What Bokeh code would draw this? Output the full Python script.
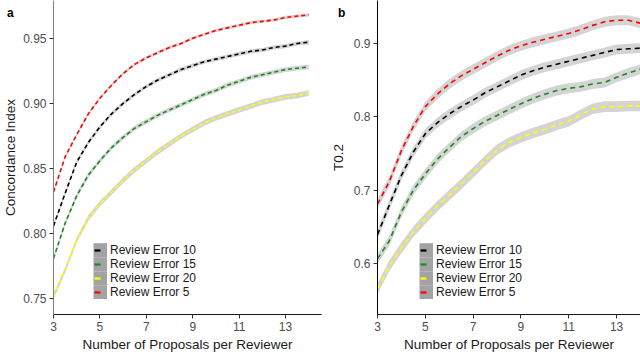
from bokeh.plotting import figure
from bokeh.layouts import row
from bokeh.models import (Range1d, FixedTicker, Legend, LegendItem, Div,
                          PrintfTickFormatter)
from bokeh.embed import file_html
from bokeh.resources import INLINE

# ---------------- data ----------------
proposals = [3, 3.5, 4, 4.5, 5, 5.5, 6, 6.5, 7, 7.5, 8, 8.5, 9, 9.5, 10, 10.5,
             11, 11.5, 12, 12.5, 13, 13.5, 14]

series_names = ["Review Error 10", "Review Error 15", "Review Error 20", "Review Error 5"]
series_colors = ["#000000", "#1a8a1a", "#ffff00", "#ff0000"]

# Panel a: Concordance Index
ci_err10 = [0.806, 0.831, 0.855, 0.870, 0.882, 0.892, 0.900, 0.907, 0.913, 0.918, 0.922, 0.926,
            0.929, 0.932, 0.934, 0.936, 0.938, 0.940, 0.941, 0.943, 0.944, 0.946, 0.947]
ci_err15 = [0.781, 0.808, 0.829, 0.845, 0.856, 0.866, 0.874, 0.881, 0.886, 0.891, 0.895, 0.899,
            0.903, 0.907, 0.910, 0.914, 0.917, 0.920, 0.922, 0.924, 0.926, 0.927, 0.928]
ci_err20 = [0.752, 0.772, 0.795, 0.812, 0.823, 0.832, 0.841, 0.849, 0.856, 0.863, 0.869, 0.875,
            0.880, 0.885, 0.889, 0.892, 0.895, 0.898, 0.901, 0.903, 0.905, 0.906, 0.908]
ci_err5 = [0.832, 0.859, 0.876, 0.892, 0.904, 0.914, 0.923, 0.930, 0.935, 0.939, 0.943, 0.946,
           0.950, 0.953, 0.956, 0.958, 0.960, 0.962, 0.963, 0.964, 0.966, 0.967, 0.968]
ci_band = [0.0016, 0.0018, 0.0022, 0.0012]

# Panel b: T0.2
t_err10 = [0.639, 0.680, 0.720, 0.752, 0.777, 0.792, 0.804, 0.814, 0.823, 0.833, 0.841, 0.849,
           0.857, 0.863, 0.868, 0.872, 0.876, 0.880, 0.884, 0.888, 0.892, 0.893, 0.894]
t_err15 = [0.606, 0.631, 0.670, 0.700, 0.722, 0.742, 0.758, 0.773, 0.784, 0.794, 0.802, 0.810,
           0.818, 0.825, 0.831, 0.836, 0.839, 0.841, 0.845, 0.847, 0.854, 0.860, 0.865]
t_err20 = [0.565, 0.597, 0.621, 0.643, 0.661, 0.678, 0.693, 0.708, 0.724, 0.740, 0.755, 0.765,
           0.772, 0.778, 0.783, 0.789, 0.794, 0.803, 0.811, 0.814, 0.814, 0.815, 0.815]
t_err5 = [0.681, 0.712, 0.754, 0.787, 0.814, 0.831, 0.845, 0.856, 0.865, 0.874, 0.883, 0.891,
          0.897, 0.902, 0.906, 0.910, 0.914, 0.919, 0.925, 0.930, 0.932, 0.932, 0.928]
t_band = [0.0068, 0.0068, 0.0072, 0.0068]

x_ticks = [3, 5, 7, 9, 11, 13]
ci_ticks = [0.75, 0.80, 0.85, 0.90, 0.95]
t_ticks = [0.6, 0.7, 0.8, 0.9]

FONT = "Liberation Sans"


def make_panel(width, border_left, border_right, xr, yr, yticks, yfmt, ylabel, series, bands,
               dash, y_axis_color, legend_x, label_standoff):
    p = figure(width=width, height=354, output_backend="svg", toolbar_location=None,
               x_range=Range1d(*xr), y_range=Range1d(*yr),
               min_border_left=border_left, min_border_right=border_right,
               min_border_top=0, min_border_bottom=38)
    p.outline_line_color = None
    p.xgrid.visible = False
    p.ygrid.visible = False
    p.background_fill_color = "white"
    p.border_fill_color = "white"

    for vals, hw in zip(series, bands):
        lo = [v - hw for v in vals]
        hi = [v + hw for v in vals]
        p.varea(x=proposals, y1=lo, y2=hi, fill_color="#d4d4d4", fill_alpha=1.0)
    for vals, col in zip(series, series_colors):
        p.line(x=proposals, y=vals, line_color=col, line_width=1.6, line_dash=dash)

    # axes
    for ax in (p.xaxis[0], p.yaxis[0]):
        ax.major_tick_in = 0
        ax.major_tick_out = 4
        ax.minor_tick_line_color = None
        ax.major_label_text_font = FONT
        ax.major_label_text_font_size = "12px"
        ax.major_label_text_color = "#4d4d4d"
        ax.major_label_standoff = 3
        ax.axis_label_text_font = FONT
        ax.axis_label_text_font_size = "13.5px"
        ax.axis_label_text_font_style = "normal"
        ax.axis_label_text_color = "#1a1a1a"
    p.xaxis.ticker = FixedTicker(ticks=x_ticks)
    p.yaxis.ticker = FixedTicker(ticks=yticks)
    p.yaxis.formatter = PrintfTickFormatter(format=yfmt)
    p.xaxis.axis_label = "Number of Proposals per Reviewer"
    p.yaxis.axis_label = ylabel
    p.xaxis.axis_label_standoff = 3
    p.yaxis.axis_label_standoff = label_standoff
    p.xaxis.axis_line_color = "#1a1a1a"
    p.xaxis.major_tick_line_color = "#333333"
    p.yaxis.axis_line_color = y_axis_color
    p.yaxis.major_tick_line_color = "#333333"

    # legend keys: renderers that live on an off-screen range (only their legend glyph shows)
    p.extra_x_ranges = {"keys": Range1d(1000, 1001)}
    key_bg = p.line(x=proposals, y=series[0], line_color="#a3a3a3", line_width=14.6,
                    x_range_name="keys")
    items = []
    for name, col, vals in zip(series_names, series_colors, series):
        kl = p.line(x=proposals, y=vals, line_color=col, line_width=2.2, line_dash="6 12",
                    line_dash_offset=-1, x_range_name="keys")
        items.append(LegendItem(label=name, renderers=[key_bg, kl]))
    leg = Legend(items=items, location=(legend_x, 15), orientation="vertical",
                 glyph_width=14, glyph_height=14, label_height=14, spacing=0,
                 padding=0, margin=0, label_standoff=3,
                 border_line_alpha=0, background_fill_alpha=0,
                 label_text_font=FONT, label_text_font_size="12px",
                 label_text_color="#1a1a1a", label_text_baseline="middle")
    p.add_layout(leg, "center")
    return p


pa = make_panel(327, 53, 6, (3, 14.55), (0.738, 0.979), ci_ticks, "%.2f", "Concordance Index",
                [ci_err10, ci_err15, ci_err20, ci_err5], ci_band, "4 3", "#808080", 40, 2)
pb = make_panel(313, 50, 0, (3, 14), (0.530, 0.959), t_ticks, "%.1f", "T0.2",
                [t_err10, t_err15, t_err20, t_err5], t_band, "5 4", "#000000", 42, 5)

letter_style = {"position": "absolute", "top": "0px", "font-weight": "bold",
                "font-family": "Liberation Sans", "font-size": "12px", "color": "#000000",
                "z-index": "10"}
div_a = Div(text="a", styles=dict(letter_style, left="2px"), width=10, height=14)
div_b = Div(text="b", styles=dict(letter_style, left="333px"), width=10, height=14)

layout = row(pa, pb, div_a, div_b)
open("out.html", "w").write(file_html(layout, INLINE))
